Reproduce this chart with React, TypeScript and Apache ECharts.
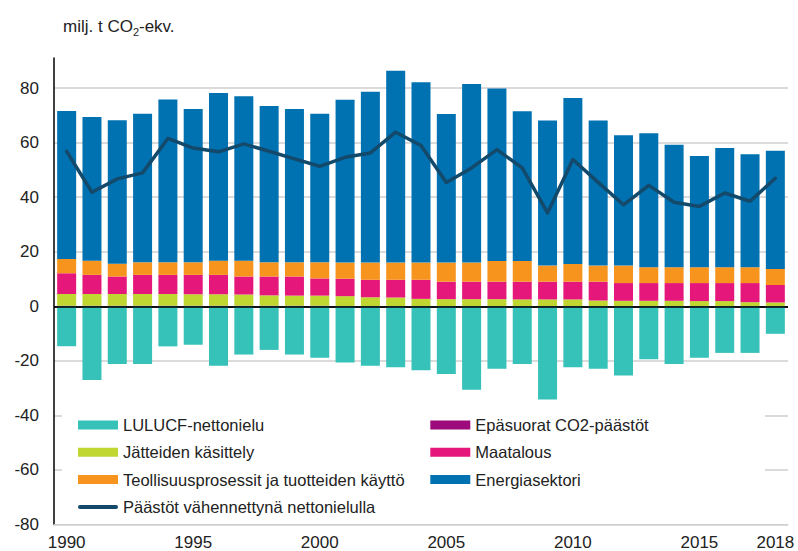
import React, { useEffect, useRef } from "react";
import * as echarts from "echarts";

const years = [
  "1990", "1991", "1992", "1993", "1994", "1995", "1996", "1997", "1998", "1999",
  "2000", "2001", "2002", "2003", "2004", "2005", "2006", "2007", "2008", "2009",
  "2010", "2011", "2012", "2013", "2014", "2015", "2016", "2017", "2018",
];

const lulucf = [
  -14.7, -27.0, -21.2, -21.2, -14.7, -14.1, -21.8, -17.7, -16.0, -17.7,
  -18.9, -20.6, -21.8, -22.4, -23.5, -24.8, -30.6, -22.9, -21.2, -34.2,
  -22.4, -22.9, -25.4, -19.4, -21.2, -18.9, -17.1, -17.1, -10.1,
];

const indirectCO2 = [
  0.2, 0.2, 0.2, 0.2, 0.2, 0.2, 0.2, 0.2, 0.2, 0.2,
  0.2, 0.1, 0.1, 0.1, 0.1, 0.1, 0.1, 0.1, 0.1, 0.1,
  0.1, 0.1, 0.1, 0.1, 0.1, 0.1, 0.1, 0.1, 0.1,
];

const waste = [
  4.3, 4.3, 4.3, 4.3, 4.3, 4.2, 4.2, 4.1, 3.8, 3.7,
  3.7, 3.6, 3.2, 3.1, 2.6, 2.5, 2.5, 2.5, 2.4, 2.4,
  2.4, 2.0, 1.9, 1.9, 1.9, 1.8, 1.8, 1.4, 1.3,
];

const agriculture = [
  7.6, 7.0, 6.4, 7.0, 7.0, 7.1, 7.1, 6.6, 6.9, 7.0,
  6.3, 6.4, 6.4, 6.5, 7.0, 6.4, 6.4, 6.4, 6.5, 6.5,
  6.5, 6.9, 6.5, 6.5, 6.5, 6.6, 6.6, 7.0, 6.4,
];

const industry = [
  5.2, 5.2, 4.7, 4.6, 4.6, 4.6, 5.2, 5.8, 5.2, 5.2,
  5.9, 5.9, 6.3, 6.3, 6.3, 7.0, 7.0, 7.6, 7.6, 5.9,
  6.5, 5.9, 6.4, 5.8, 5.8, 5.8, 5.8, 5.8, 5.9,
];

const energy = [
  54.3, 52.7, 52.6, 54.5, 59.7, 56.2, 61.5, 60.3, 57.3, 56.2,
  54.5, 59.7, 62.6, 70.3, 66.1, 54.5, 65.5, 63.2, 54.9, 53.2,
  60.8, 53.2, 47.8, 49.1, 44.9, 40.8, 43.7, 41.4, 43.3,
];

const netEmissions = [
  56.8, 41.8, 46.7, 48.9, 61.5, 58.0, 56.6, 59.5, 56.8, 54.0,
  51.3, 54.6, 56.2, 63.8, 58.9, 45.4, 50.7, 57.4, 50.7, 34.2,
  53.8, 45.4, 37.2, 44.3, 38.1, 36.6, 41.5, 38.5, 46.9,
];

const yMin = -80;
const yMax = 91;
const yInterval = 20;

const names = {
  lulucf: "LULUCF-nettonielu",
  indirect: "Epäsuorat CO2-päästöt",
  waste: "Jätteiden käsittely",
  agri: "Maatalous",
  industry: "Teollisuusprosessit ja tuotteiden käyttö",
  energy: "Energiasektori",
  net: "Päästöt vähennettynä nettonielulla",
};

export default function App() {
  const ref = useRef<HTMLDivElement>(null);

  useEffect(() => {
    document.body.style.margin = "0";
    const chart = echarts.init(ref.current as HTMLDivElement, null, { renderer: "svg" });
    const font = "'Liberation Sans', Arial, sans-serif";
    const grayLine = "#cfcfcf";
    const textColor = "#222";
    const barBase = {
      type: "bar",
      stack: "total",
      barWidth: 19,
      emphasis: { disabled: true },
    };

    chart.setOption({
      animation: false,
      textStyle: { fontFamily: font },
      title: {
        left: 58,
        top: 10,
        text: "{a|milj. t CO}{s|2}{a|-ekv.}",
        textStyle: {
          fontWeight: "normal",
          rich: {
            a: { fontFamily: font, fontSize: 17, fontWeight: "normal", color: textColor, lineHeight: 22, verticalAlign: "middle" },
            s: { fontFamily: font, fontSize: 11, fontWeight: "normal", color: textColor, lineHeight: 22, verticalAlign: "bottom", padding: [8, 0, 0, 0] },
          },
        },
      },
      grid: { left: 54, right: 10, top: 58, bottom: 26.5, containLabel: false },
      legend: {
        left: 78,
        top: 415,
        width: 700,
        padding: 0,
        itemGap: 7.3,
        itemWidth: 40,
        itemHeight: 9,
        z: 10,
        textStyle: { fontFamily: font, fontSize: 16.5, color: textColor, width: 300, lineHeight: 20 },
        data: [
          { name: names.lulucf, icon: "rect" },
          { name: names.indirect, icon: "rect" },
          { name: names.waste, icon: "rect" },
          { name: names.agri, icon: "rect" },
          { name: names.industry, icon: "rect" },
          { name: names.energy, icon: "rect" },
          { name: names.net, icon: "path://M2,0 L38,0 A2,2 0 0 1 38,4 L2,4 A2,2 0 0 1 2,0 Z" },
        ],
      },
      graphic: [
        {
          type: "rect",
          z: 1,
          shape: { x: 62, y: 403, width: 703, height: 116 },
          style: { fill: "#ffffff" },
          silent: true,
        },
      ],
      xAxis: {
        type: "category",
        data: years,
        boundaryGap: true,
        axisLine: { show: true, onZero: false, lineStyle: { color: grayLine, width: 1 } },
        axisTick: { show: false },
        axisLabel: {
          interval: (index: number) => index % 5 === 0 || index === years.length - 1,
          fontFamily: font,
          fontSize: 17,
          color: textColor,
          margin: 9,
        },
        splitLine: { show: false },
      },
      yAxis: {
        type: "value",
        min: yMin,
        max: yMax,
        interval: yInterval,
        axisLine: { show: true, lineStyle: { color: "#000", width: 1.5 } },
        axisTick: { show: false },
        axisLabel: { fontFamily: font, fontSize: 17, color: textColor, margin: 15, showMaxLabel: false },
        splitLine: {
          show: true,
          showMaxLine: false,
          lineStyle: {
            color: [grayLine, grayLine, grayLine, grayLine, "#000", grayLine, grayLine, grayLine, grayLine, "rgba(0,0,0,0)"],
            width: 1.5,
          },
        },
      },
      series: [
        {
          ...barBase,
          name: names.lulucf,
          data: lulucf,
          itemStyle: { color: "#36c1b9" },
          markLine: {
            silent: true,
            symbol: ["none", "none"],
            label: { show: false },
            lineStyle: { color: "#000", width: 1.5, type: "solid" },
            data: [{ yAxis: 0 }],
          },
        },
        { ...barBase, name: names.indirect, data: indirectCO2, itemStyle: { color: "#9c0a7c" } },
        { ...barBase, name: names.waste, data: waste, itemStyle: { color: "#bfd730" } },
        { ...barBase, name: names.agri, data: agriculture, itemStyle: { color: "#e5177b" } },
        { ...barBase, name: names.industry, data: industry, itemStyle: { color: "#f7941e" } },
        { ...barBase, name: names.energy, data: energy, itemStyle: { color: "#0071b1" } },
        {
          type: "line",
          name: names.net,
          data: netEmissions,
          symbol: "none",
          showSymbol: false,
          z: 5,
          lineStyle: { color: "#134a6b", width: 3.5, cap: "round", join: "round" },
          itemStyle: { color: "#134a6b" },
          emphasis: { disabled: true },
        },
      ],
    });

    return () => chart.dispose();
  }, []);

  return <div ref={ref} style={{ width: 798, height: 551 }} />;
}
